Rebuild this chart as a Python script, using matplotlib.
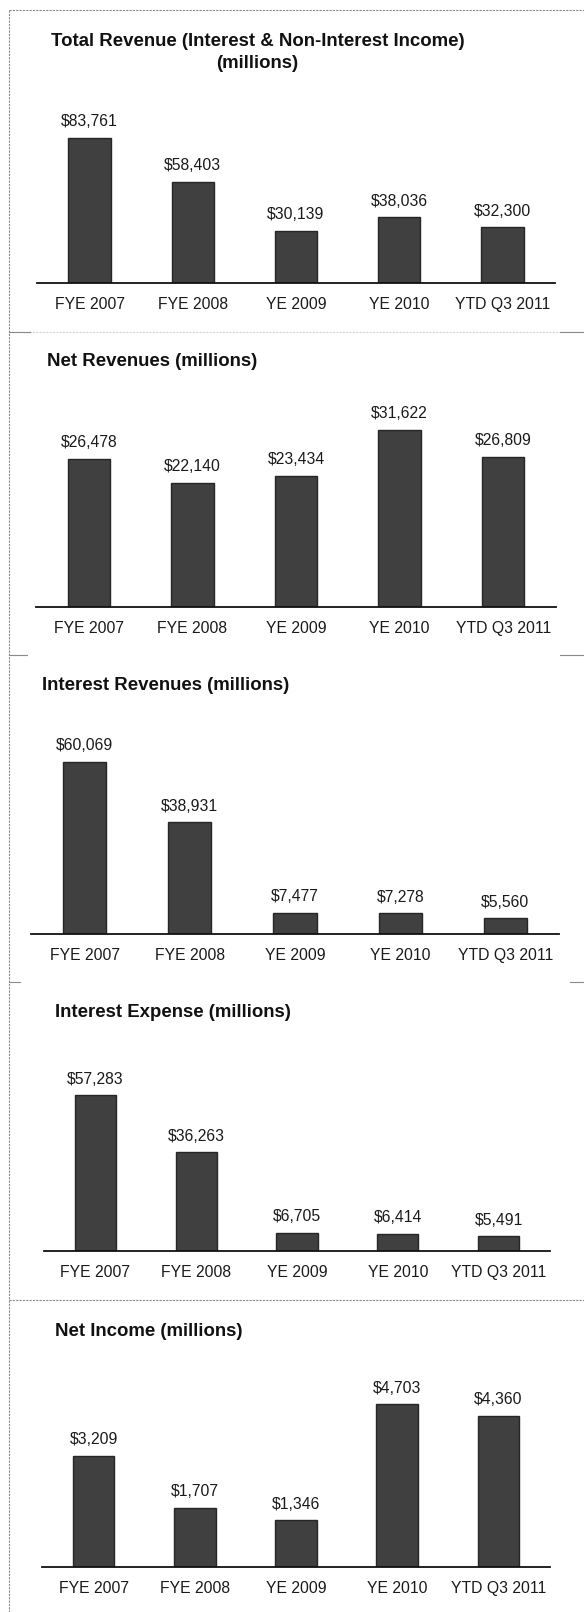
import matplotlib
matplotlib.use('Agg')
import matplotlib.pyplot as plt
from matplotlib.lines import Line2D

plt.rcParams['font.family'] = ['Liberation Sans', 'DejaVu Sans']

categories = ['FYE 2007', 'FYE 2008', 'YE 2009', 'YE 2010', 'YTD Q3 2011']
total_revenue = [83761, 58403, 30139, 38036, 32300]
net_revenues = [26478, 22140, 23434, 31622, 26809]
interest_revenues = [60069, 38931, 7477, 7278, 5560]
interest_expense = [57283, 36263, 6705, 6414, 5491]
net_income = [3209, 1707, 1346, 4703, 4360]

W, H = 584, 1612
fig = plt.figure(figsize=(W / 100, H / 100), dpi=100)

BAR = '#404040'
EDGE = '#262626'
TXT = '#1a1a1a'
FS = 11.3

# (values, axis x0, axis x1, baseline y, units per pixel)
panels = [
    (total_revenue, 37, 555, 283, 576.5),
    (net_revenues, 36, 556, 607, 178.4),
    (interest_revenues, 31, 559, 934, 348.6),
    (interest_expense, 44, 550, 1251, 367.2),
    (net_income, 42, 550, 1567, 28.85),
]

for vals, x0, x1, base, per_px in panels:
    h_px = 200
    ax = fig.add_axes([x0 / W, (H - base) / H, (x1 - x0) / W, h_px / H])
    xs = range(len(categories))
    ax.bar(xs, vals, width=0.41, color=BAR, edgecolor=EDGE, linewidth=1.0, zorder=2)
    ax.set_xlim(-0.51, len(categories) - 0.49)
    ax.set_ylim(0, h_px * per_px)
    for s in ['top', 'right', 'left']:
        ax.spines[s].set_visible(False)
    ax.spines['bottom'].set_color('#111111')
    ax.spines['bottom'].set_linewidth(1.3)
    ax.spines['bottom'].set_zorder(3)
    ax.set_yticks([])
    ax.set_xticks(list(xs))
    ax.set_xticklabels(categories, fontsize=FS, color=TXT)
    ax.tick_params(axis='x', length=0, pad=10)
    ax.patch.set_visible(False)
    for x, v in zip(xs, vals):
        ax.annotate('${:,}'.format(v), (x, v), xytext=(0, 11.5), textcoords='offset points',
                    ha='center', va='center', fontsize=FS, color=TXT)

# titles
def ftext(x, y, s, **kw):
    fig.text(x / W, 1 - y / H, s, fontsize=13.4, fontweight='bold', color='#111111', va='center', **kw)

ftext(258, 41, 'Total Revenue (Interest & Non-Interest Income)', ha='center')
ftext(257, 63, '(millions)', ha='center')
ftext(47, 361, 'Net Revenues (millions)', ha='left')
ftext(42, 686, 'Interest Revenues (millions)', ha='left')
ftext(55, 1012, 'Interest Expense (millions)', ha='left')
ftext(55, 1331, 'Net Income (millions)', ha='left')

# frame lines around the slide panels
def fline(xa, ya, xb, yb, color='#8a8a8a', ls=(0, (2, 1)), lw=0.8):
    fig.add_artist(Line2D([xa / W, xb / W], [1 - ya / H, 1 - yb / H],
                          transform=fig.transFigure, color=color, linestyle=ls, linewidth=lw))

fline(9, 10, 9, H)
fline(9, 10, W, 10)
fline(9, 332, W, 332, color='#d4d4d4')
fline(9, 332, 30, 332, ls='-')
fline(560, 332, W, 332, ls='-')
fline(9, 655, 27, 655, ls='-')
fline(560, 655, W, 655, ls='-')
fline(9, 982, 20, 982, ls='-')
fline(570, 982, W, 982, ls='-')
fline(9, 1300, W, 1300)

fig.savefig('out.png', dpi=100)
